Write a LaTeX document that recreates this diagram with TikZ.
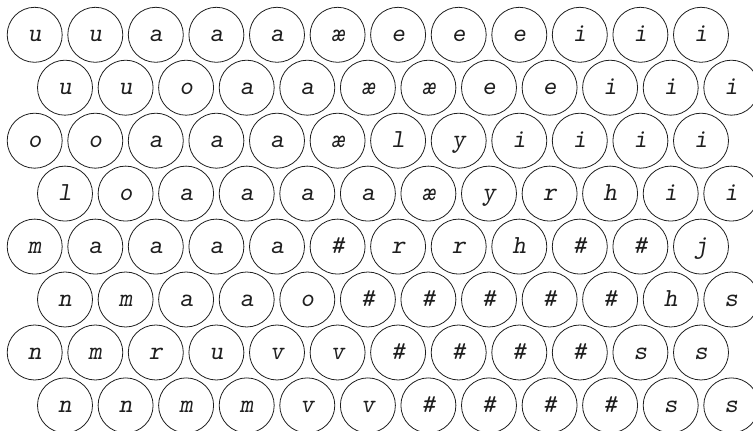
\documentclass[tikz,border=0pt]{standalone}
\usepackage{xcolor,tikz}
\definecolor{ink}{HTML}{1E1E1E}
\newcommand{\glyph}{\fontsize{26}{28}\selectfont\ttfamily\slshape}
\tikzset{cell/.style={circle,draw=ink,line width=0.8pt,minimum size=55pt,inner sep=0,
  text=ink,font=\glyph,text height=17pt,text depth=3pt}}

\begin{document}
\begin{tikzpicture}[x=1pt,y=1pt]
\clip (0,0) rectangle (753,431);
% row 1
\node[cell] (r1c1) at (34.7,396.2) {u};
\node[cell] (r1c2) at (95.3,396.2) {u};
\node[cell] (r1c3) at (155.8,396.2) {a};
\node[cell] (r1c4) at (216.4,396.2) {a};
\node[cell] (r1c5) at (277.0,396.2) {a};
\node[cell] (r1c6) at (337.6,396.2) {æ};
\node[cell] (r1c7) at (398.1,396.2) {e};
\node[cell] (r1c8) at (458.7,396.2) {e};
\node[cell] (r1c9) at (519.3,396.2) {e};
\node[cell] (r1c10) at (579.8,396.2) {i};
\node[cell] (r1c11) at (640.4,396.2) {i};
\node[cell] (r1c12) at (701.0,396.2) {i};
% row 2
\node[cell] (r2c1) at (65.0,343.3) {u};
\node[cell] (r2c2) at (125.6,343.3) {u};
\node[cell] (r2c3) at (186.1,343.3) {o};
\node[cell] (r2c4) at (246.7,343.3) {a};
\node[cell] (r2c5) at (307.3,343.3) {a};
\node[cell] (r2c6) at (367.9,343.3) {æ};
\node[cell] (r2c7) at (428.4,343.3) {æ};
\node[cell] (r2c8) at (489.0,343.3) {e};
\node[cell] (r2c9) at (549.6,343.3) {e};
\node[cell] (r2c10) at (610.1,343.3) {i};
\node[cell] (r2c11) at (670.7,343.3) {i};
\node[cell] (r2c12) at (731.3,343.3) {i};
% row 3
\node[cell] (r3c1) at (34.7,290.3) {o};
\node[cell] (r3c2) at (95.3,290.3) {o};
\node[cell] (r3c3) at (155.8,290.3) {a};
\node[cell] (r3c4) at (216.4,290.3) {a};
\node[cell] (r3c5) at (277.0,290.3) {a};
\node[cell] (r3c6) at (337.6,290.3) {æ};
\node[cell] (r3c7) at (398.1,290.3) {l};
\node[cell] (r3c8) at (458.7,290.3) {y};
\node[cell] (r3c9) at (519.3,290.3) {i};
\node[cell] (r3c10) at (579.8,290.3) {i};
\node[cell] (r3c11) at (640.4,290.3) {i};
\node[cell] (r3c12) at (701.0,290.3) {i};
% row 4
\node[cell] (r4c1) at (65.0,237.4) {l};
\node[cell] (r4c2) at (125.6,237.4) {o};
\node[cell] (r4c3) at (186.1,237.4) {a};
\node[cell] (r4c4) at (246.7,237.4) {a};
\node[cell] (r4c5) at (307.3,237.4) {a};
\node[cell] (r4c6) at (367.9,237.4) {a};
\node[cell] (r4c7) at (428.4,237.4) {æ};
\node[cell] (r4c8) at (489.0,237.4) {y};
\node[cell] (r4c9) at (549.6,237.4) {r};
\node[cell] (r4c10) at (610.1,237.4) {h};
\node[cell] (r4c11) at (670.7,237.4) {i};
\node[cell] (r4c12) at (731.3,237.4) {i};
% row 5
\node[cell] (r5c1) at (34.7,184.4) {m};
\node[cell] (r5c2) at (95.3,184.4) {a};
\node[cell] (r5c3) at (155.8,184.4) {a};
\node[cell] (r5c4) at (216.4,184.4) {a};
\node[cell] (r5c5) at (277.0,184.4) {a};
\node[cell] (r5c6) at (337.6,184.4) {\#};
\node[cell] (r5c7) at (398.1,184.4) {r};
\node[cell] (r5c8) at (458.7,184.4) {r};
\node[cell] (r5c9) at (519.3,184.4) {h};
\node[cell] (r5c10) at (579.8,184.4) {\#};
\node[cell] (r5c11) at (640.4,184.4) {\#};
\node[cell] (r5c12) at (701.0,184.4) {j};
% row 6
\node[cell] (r6c1) at (65.0,131.5) {n};
\node[cell] (r6c2) at (125.6,131.5) {m};
\node[cell] (r6c3) at (186.1,131.5) {a};
\node[cell] (r6c4) at (246.7,131.5) {a};
\node[cell] (r6c5) at (307.3,131.5) {o};
\node[cell] (r6c6) at (367.9,131.5) {\#};
\node[cell] (r6c7) at (428.4,131.5) {\#};
\node[cell] (r6c8) at (489.0,131.5) {\#};
\node[cell] (r6c9) at (549.6,131.5) {\#};
\node[cell] (r6c10) at (610.1,131.5) {\#};
\node[cell] (r6c11) at (670.7,131.5) {h};
\node[cell] (r6c12) at (731.3,131.5) {s};
% row 7
\node[cell] (r7c1) at (34.7,78.5) {n};
\node[cell] (r7c2) at (95.3,78.5) {m};
\node[cell] (r7c3) at (155.8,78.5) {r};
\node[cell] (r7c4) at (216.4,78.5) {u};
\node[cell] (r7c5) at (277.0,78.5) {v};
\node[cell] (r7c6) at (337.6,78.5) {v};
\node[cell] (r7c7) at (398.1,78.5) {\#};
\node[cell] (r7c8) at (458.7,78.5) {\#};
\node[cell] (r7c9) at (519.3,78.5) {\#};
\node[cell] (r7c10) at (579.8,78.5) {\#};
\node[cell] (r7c11) at (640.4,78.5) {s};
\node[cell] (r7c12) at (701.0,78.5) {s};
% row 8
\node[cell] (r8c1) at (65.0,25.6) {n};
\node[cell] (r8c2) at (125.6,25.6) {n};
\node[cell] (r8c3) at (186.1,25.6) {m};
\node[cell] (r8c4) at (246.7,25.6) {m};
\node[cell] (r8c5) at (307.3,25.6) {v};
\node[cell] (r8c6) at (367.9,25.6) {v};
\node[cell] (r8c7) at (428.4,25.6) {\#};
\node[cell] (r8c8) at (489.0,25.6) {\#};
\node[cell] (r8c9) at (549.6,25.6) {\#};
\node[cell] (r8c10) at (610.1,25.6) {\#};
\node[cell] (r8c11) at (670.7,25.6) {s};
\node[cell] (r8c12) at (731.3,25.6) {s};
\end{tikzpicture}
\end{document}
